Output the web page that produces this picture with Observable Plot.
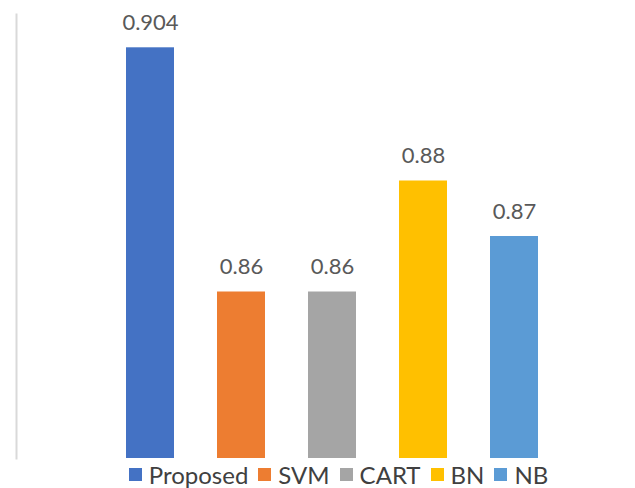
<!DOCTYPE html>
<html>
<head>
<meta charset="utf-8">
<script src="https://cdn.jsdelivr.net/npm/d3@7"></script>
<script src="https://cdn.jsdelivr.net/npm/@observablehq/plot@0.6"></script>
<style>
  html, body { margin: 0; padding: 0; background: #fff; }
  #chart { width: 635px; }
  #chart svg { display: block; }
  .legend {
    display: flex; justify-content: center; align-items: center;
    height: 28px; padding-left: 42px; box-sizing: border-box; width: 635px;
    font-family: Lato, "Liberation Sans", sans-serif; font-size: 24px; color: #404040;
  }
  .legend .item { display: flex; align-items: center; margin: 0 5px; }
  .legend .sw { width: 13px; height: 13px; margin-right: 7px; }
</style>
</head>
<body>
<div id="chart"></div>
<script>
// Classifier accuracy
const models = ["Proposed", "SVM", "CART", "BN", "NB"];
const accuracy = [0.904, 0.86, 0.86, 0.88, 0.87];
const labels = ["0.904", "0.86", "0.86", "0.88", "0.87"];
const colors = ["#4472C4", "#ED7D31", "#A5A5A5", "#FFC000", "#5B9BD5"];
const yDomain = [0.83, 0.91];

const rows = models.map((m, i) => ({model: m, value: accuracy[i], label: labels[i]}));

const plot = Plot.plot({
  width: 635,
  height: 460,
  marginTop: 14,
  marginBottom: 2,
  marginLeft: 16,
  marginRight: 0,
  style: {fontFamily: "Lato, 'Liberation Sans', sans-serif", background: "#fff"},
  x: {type: "band", domain: models, range: [81, 582.5], padding: 0.47, axis: null},
  y: {domain: yDomain, axis: null},
  color: {domain: models, range: colors},
  marks: [
    Plot.frame({anchor: "left", stroke: "#d9d9d9", strokeWidth: 2}),
    Plot.barY(rows, {x: "model", y1: yDomain[0], y2: "value", fill: "model"}),
    Plot.text(rows, {
      x: "model", y: "value", text: "label",
      lineAnchor: "bottom", dy: -18,
      fontSize: 22, fill: "#595959"
    })
  ]
});
document.getElementById("chart").appendChild(plot);

// Legend below the plot
const legend = d3.select("#chart").append("div").attr("class", "legend");
models.forEach((m, i) => {
  const item = legend.append("div").attr("class", "item");
  item.append("div").attr("class", "sw").style("background", colors[i]);
  item.append("span").text(m);
});
</script>
</body>
</html>
